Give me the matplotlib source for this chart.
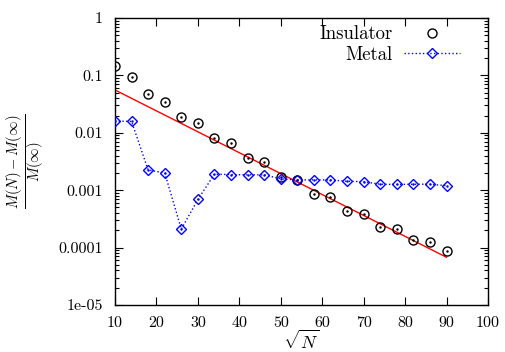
import matplotlib
matplotlib.use("Agg")
from matplotlib import pyplot as plt
from matplotlib.ticker import FixedLocator, LogLocator, NullFormatter
import numpy as np

# sqrt(N) values
n_ins = [10, 14, 18, 22, 26, 30, 34, 38, 42, 46, 50, 54, 58, 62, 66, 70, 74, 78, 82, 86, 90]
ins = [0.146, 0.094, 0.047, 0.034, 0.019, 0.0148, 0.0081, 0.0066, 0.0036, 0.0031, 0.0017,
       0.0015, 0.00085, 0.00076, 0.00044, 0.00039, 0.00023, 0.00021, 0.000135, 0.000126, 0.000087]

n_met = n_ins
met = [0.016, 0.0158, 0.00225, 0.0020, 0.00021, 0.00069, 0.0019, 0.00187, 0.00185, 0.00185,
       0.00158, 0.00151, 0.00151, 0.00151, 0.00143, 0.00141, 0.00127, 0.00126, 0.00127,
       0.00127, 0.0012]

# fitted curve for insulator: y = A * exp(-x / L)
fit_amp = 0.129
fit_len = 11.92
fit_range = [10, 90]

xticks = [10, 20, 30, 40, 50, 60, 70, 80, 90, 100]
yticks = [1e-5, 1e-4, 1e-3, 1e-2, 1e-1, 1]
ylabels = ["1e-05", "0.0001", "0.001", "0.01", "0.1", "1"]

plt.rcParams['font.family'] = ['cmr10', 'DejaVu Serif']
plt.rcParams['mathtext.fontset'] = 'cm'
plt.rcParams['axes.formatter.use_mathtext'] = True

fig = plt.figure(figsize=(5.05, 3.52), dpi=100)
ax = fig.add_axes([0.2277, 0.1335, 0.7386, 0.8154])

xf = np.linspace(fit_range[0], fit_range[1], 50)
ax.plot(xf, fit_amp * np.exp(-xf / fit_len), color='#ff0000', lw=1.0, zorder=2)

ax.plot(n_ins, ins, linestyle='none', marker='o', ms=6.5, mfc='none', mec='black',
        mew=1.0, label='Insulator', zorder=3)
ax.plot(n_ins, ins, linestyle='none', marker='.', ms=1.5, color='black', zorder=3)
ax.plot(n_met, met, linestyle=':', color='#0000ff', lw=1.0, marker='D', ms=4.8,
        mfc='none', mec='#0000ff', mew=1.0, label='Metal', zorder=3)
ax.plot(n_met, met, linestyle='none', marker='.', ms=1.5, color='#0000ff', zorder=3)

ax.set_yscale('log')
ax.set_xlim(10, 100)
ax.set_ylim(1e-5, 1)
ax.xaxis.set_major_locator(FixedLocator(xticks))
ax.set_xticklabels([str(t) for t in xticks])
ax.yaxis.set_major_locator(FixedLocator(yticks))
ax.set_yticklabels(ylabels)
ax.yaxis.set_minor_locator(LogLocator(base=10, subs=np.arange(2, 10)))
ax.yaxis.set_minor_formatter(NullFormatter())
ax.tick_params(which='both', direction='in', top=True, right=True, labelsize=11.5,
               width=0.8)
ax.tick_params(which='major', length=6)
ax.tick_params(axis='y', which='major', pad=9)
ax.tick_params(axis='x', which='major', pad=8)
ax.tick_params(which='minor', length=3)
for s in ax.spines.values():
    s.set_linewidth(1.0)

ax.set_xlabel(r'$\sqrt{N}$', fontsize=13, labelpad=-1)
ax.set_ylabel(r'$\frac{M(N)-M(\infty)}{M(\infty)}$', fontsize=15, labelpad=8)

ax.legend(loc='upper right', bbox_to_anchor=(0.925, 0.975), frameon=False,
          markerfirst=False, fontsize=13.5, handlelength=3.0, handletextpad=0.6,
          labelspacing=0.15, borderpad=0, borderaxespad=0)

fig.savefig('out.png', dpi=100)
